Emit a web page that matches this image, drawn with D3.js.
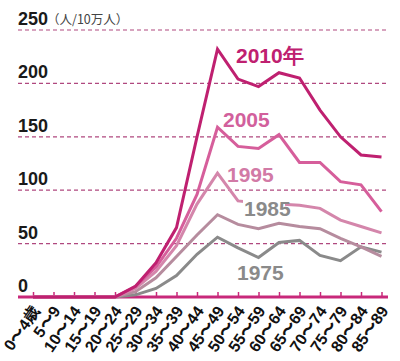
<!DOCTYPE html>
<html>
<head>
<meta charset="utf-8">
<script src="https://cdn.jsdelivr.net/npm/d3@7"></script>
<style>
  body { margin: 0; background: #fff; }
  svg { display: block; }
</style>
</head>
<body>
<svg id="chart" width="400" height="361"></svg>
<script>
// age groups and rates (per 100,000)
const ages = ["0〜4歳", "5〜9", "10〜14", "15〜19", "20〜24", "25〜29", "30〜34", "35〜39",
  "40〜44", "45〜49", "50〜54", "55〜59", "60〜64", "65〜69", "70〜74", "75〜79", "80〜84", "85〜89"];
const years = ["1975", "1985", "1995", "2005", "2010"];
const v1975 = [0, 0, 0, 0, 0, 2, 8, 20, 40, 56, 46, 37, 51, 53, 39, 34, 47, 42];
const v1985 = [0, 0, 0, 0, 0, 5, 18, 38, 58, 77, 68, 64, 69, 66, 64, 55, 47, 38];
const v1995 = [0, 0, 0, 0, 0, 8, 24, 48, 87, 116, 90, 88, 87, 86, 83, 72, 66, 60];
const v2005 = [0, 0, 0, 0, 0, 10, 28, 55, 96, 159, 141, 139, 152, 126, 126, 108, 105, 80];
const v2010 = [0, 0, 0, 0, 0, 10, 32, 65, 150, 232, 204, 197, 210, 205, 175, 150, 133, 131];
const yTicks = [0, 50, 100, 150, 200, 250];
const unitLabel = "（人/10万人）";

const series = [v1975, v1985, v1995, v2005, v2010];
const colors = ["#8a8a8a", "#b68c9e", "#d486ab", "#d65e9b", "#bf2070"];
const labelColors = ["#8a8a8a", "#8a8a8a", "#d27aa6", "#d2609c", "#bf2070"];
const labelPos = [[237, 280], [244, 216], [227, 182], [223, 127], [236, 63]];

const svg = d3.select("#chart");
const x = d3.scalePoint().domain(ages).range([33, 381.5]);
const y = d3.scaleLinear().domain([0, 250]).range([297, 30]);

// dashed grid
svg.append("g").selectAll("line")
  .data(yTicks.filter(d => d > 0))
  .join("line")
  .attr("x1", 18).attr("x2", 387)
  .attr("y1", d => y(d)).attr("y2", d => y(d))
  .attr("stroke", "#b0487f")
  .attr("stroke-width", 1.2)
  .attr("stroke-dasharray", "4,3");

svg.append("g").selectAll("text")
  .data(yTicks)
  .join("text")
  .attr("x", 18)
  .attr("y", d => y(d) - 5)
  .attr("font-family", "Liberation Sans Narrow, Liberation Sans, sans-serif")
  .attr("font-weight", "bold")
  .attr("font-size", 18)
  .attr("fill", "#1a1a1a")
  .text(d => d);

svg.append("text")
  .attr("x", 47).attr("y", y(250) - 6)
  .attr("font-family", "Noto Sans CJK JP, sans-serif")
  .attr("font-size", 12.5)
  .attr("fill", "#444")
  .text(unitLabel);

// x axis
const xAxis = svg.append("g")
  .attr("transform", "translate(0," + y(0) + ")")
  .call(d3.axisBottom(x).tickSize(-5).tickSizeOuter(0).tickPadding(0));
xAxis.select(".domain").remove();
xAxis.selectAll(".tick line").attr("stroke", "#c8287a").attr("stroke-width", 1.5);
xAxis.selectAll(".tick text")
  .attr("font-family", "Liberation Sans, sans-serif")
  .attr("font-weight", "bold")
  .attr("font-size", 16)
  .attr("fill", "#111")
  .attr("text-anchor", "end")
  .attr("y", 0).attr("dy", "0")
  .attr("transform", "translate(7,14) rotate(-55)");

svg.append("line")
  .attr("x1", 18).attr("x2", 388)
  .attr("y1", y(0)).attr("y2", y(0))
  .attr("stroke", "#c8287a")
  .attr("stroke-width", 3);

const line = d3.line()
  .x((d, i) => x(ages[i]))
  .y(d => y(d));

svg.append("g").selectAll("path")
  .data(series)
  .join("path")
  .attr("d", line)
  .attr("fill", "none")
  .attr("stroke", (d, i) => colors[i])
  .attr("stroke-width", 3)
  .attr("stroke-linejoin", "miter");

// series labels; 1985 sits on a white box that hides part of the 1995 line
const labels = svg.append("g").selectAll("g")
  .data(years)
  .join("g");
labels.filter((d, i) => i === 1)
  .append("rect")
  .attr("x", d => labelPos[1][0] - 1).attr("y", labelPos[1][1] - 17)
  .attr("width", 42).attr("height", 19)
  .attr("fill", "#fff");
labels.append("text")
  .attr("x", (d, i) => labelPos[i][0])
  .attr("y", (d, i) => labelPos[i][1])
  .attr("font-family", "Liberation Sans Narrow, Liberation Sans, sans-serif")
  .attr("font-weight", "bold")
  .attr("font-size", 21)
  .attr("fill", (d, i) => labelColors[i])
  .text(d => d === "2010" ? d + "年" : d);
</script>
</body>
</html>
